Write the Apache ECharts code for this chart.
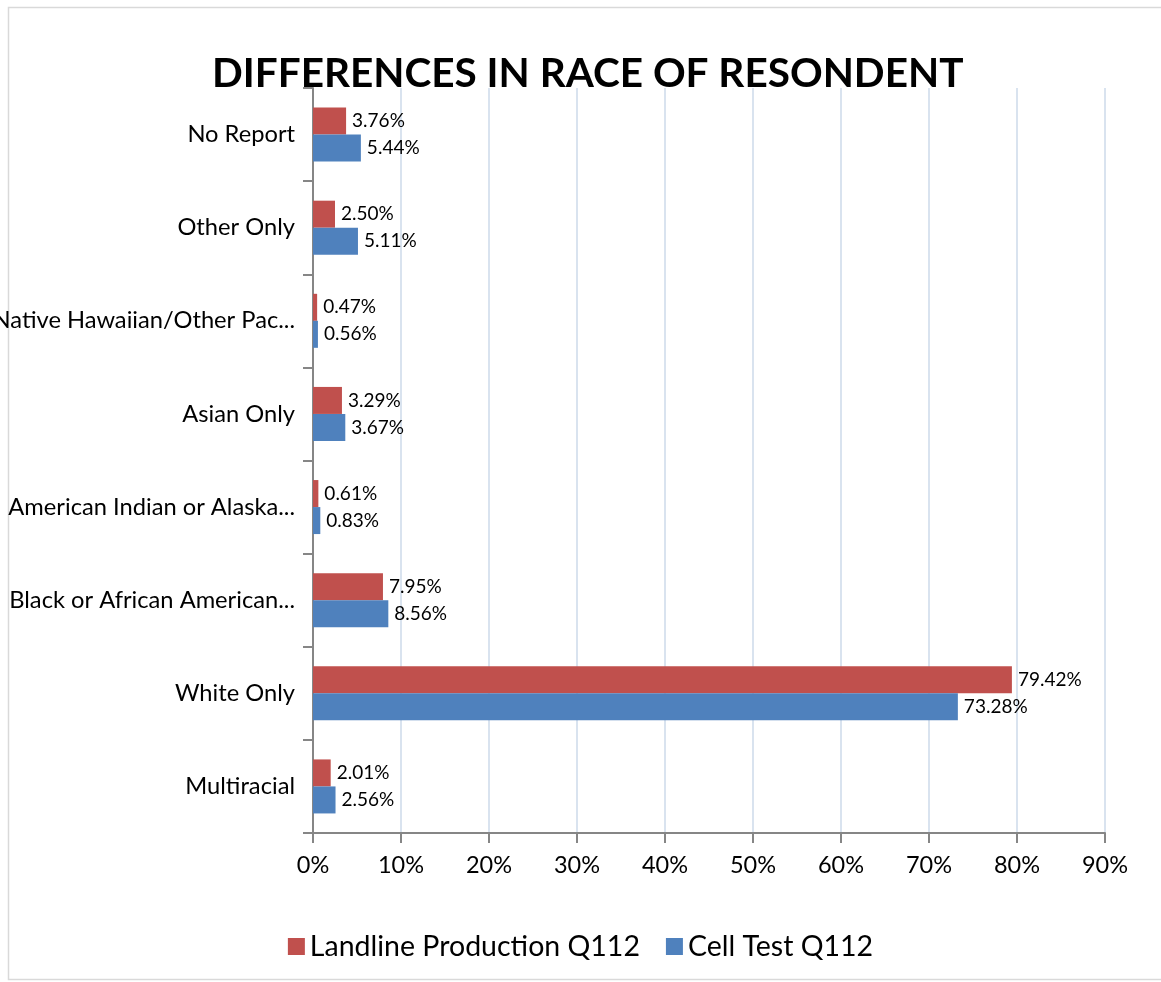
<!DOCTYPE html>
<html>
<head>
<meta charset="utf-8">
<script src="https://cdn.jsdelivr.net/npm/echarts@6/dist/echarts.min.js"></script>
<style>html,body{margin:0;padding:0;background:#fff;}#c{width:1161px;height:982px;}</style>
</head>
<body>
<div id="c"></div>
<script>
const titleText = 'DIFFERENCES IN RACE OF RESONDENT';
const categories = ['Multiracial', 'White Only', 'Black or African American...', 'American Indian or Alaska...', 'Asian Only', 'Native Hawaiian/Other Pac...', 'Other Only', 'No Report'];
const landline = [2.01, 79.42, 7.95, 0.61, 3.29, 0.47, 2.50, 3.76];
const cell = [2.56, 73.28, 8.56, 0.83, 3.67, 0.56, 5.11, 5.44];
const seriesNames = ['Landline Production Q112', 'Cell Test Q112'];

const FONT = 'Lato';
const chart = echarts.init(document.getElementById('c'));
const labelCfg = {
  show: true, position: 'right', distance: 6,
  fontFamily: FONT, fontSize: 19, color: '#000',
  formatter: p => p.value.toFixed(2) + '%'
};
chart.setOption({
  animation: false,
  backgroundColor: '#fff',
  graphic: [{
    type: 'rect', shape: {x: 8.5, y: 7.5, width: 1160, height: 972},
    style: {fill: 'none', stroke: '#d9d9d9', lineWidth: 1.5}, silent: true, z: -1
  }],
  title: {
    text: titleText, left: 207, top: 48,
    textStyle: {fontFamily: FONT, fontWeight: 'bold', fontSize: 40.5, color: '#000'}
  },
  legend: {
    bottom: 16, left: 'center', itemWidth: 17, itemHeight: 17, itemGap: 26,
    icon: 'rect',
    textStyle: {fontFamily: FONT, fontSize: 28.5, color: '#000'},
    data: seriesNames
  },
  grid: {left: 313, right: 56, top: 88, bottom: 149, containLabel: false, outerBoundsMode: 'none'},
  xAxis: {
    type: 'value', min: 0, max: 90, interval: 10,
    axisLine: {show: true, lineStyle: {color: '#868686', width: 2}},
    axisTick: {show: true, length: 10, lineStyle: {color: '#868686', width: 2}},
    axisLabel: {fontFamily: FONT, fontSize: 23.5, color: '#000', margin: 20, formatter: '{value}%'},
    splitLine: {show: true, lineStyle: {color: '#d9e3ef', width: 2}}
  },
  yAxis: {
    type: 'category', data: categories,
    axisLine: {show: true, lineStyle: {color: '#868686', width: 2}},
    axisTick: {show: true, length: 10, lineStyle: {color: '#868686', width: 2}},
    axisLabel: {fontFamily: FONT, fontSize: 23.7, color: '#000', margin: 18},
    splitLine: {show: false}
  },
  series: [
    {name: seriesNames[0], type: 'bar', data: landline, itemStyle: {color: '#C0504D'},
     barGap: '0%', barCategoryGap: '42%', label: labelCfg},
    {name: seriesNames[1], type: 'bar', data: cell, itemStyle: {color: '#4F81BD'},
     barGap: '0%', barCategoryGap: '42%', label: labelCfg}
  ]
});
</script>
</body>
</html>
